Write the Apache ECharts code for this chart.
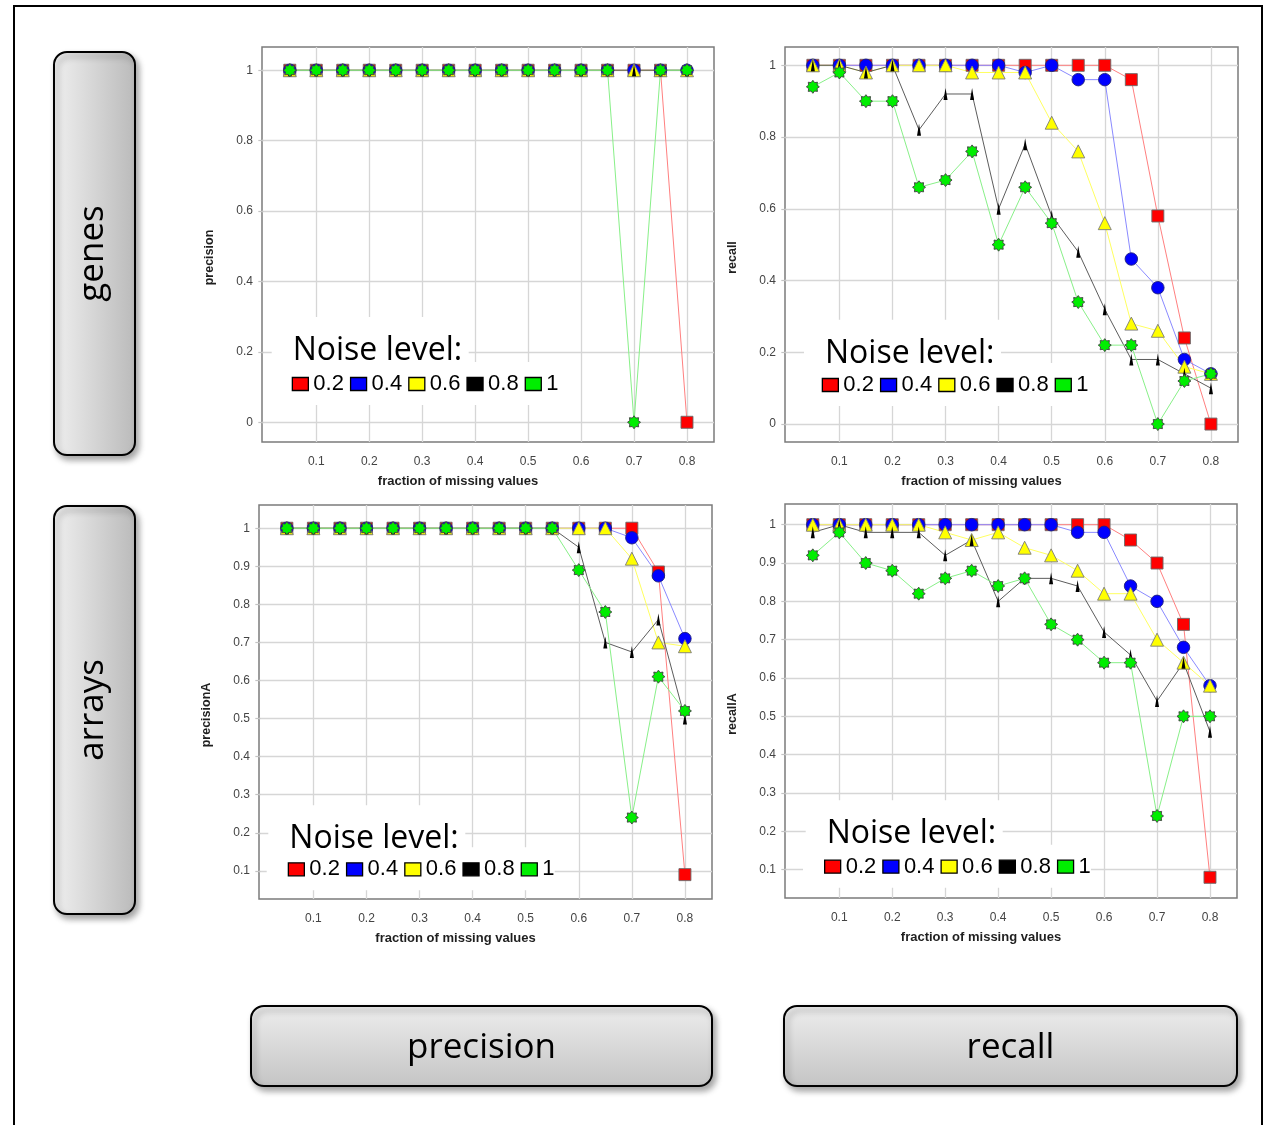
<!DOCTYPE html>
<html>
<head>
<meta charset="utf-8">
<script src="https://cdn.jsdelivr.net/npm/echarts@6/dist/echarts.min.js"></script>
<style>
  html, body { margin: 0; padding: 0; background: #fff; }
  #chart { width: 1276px; height: 1125px; }
</style>
</head>
<body>
<div id="chart"></div>
<script>
// x positions: fraction of missing values
const fractions = [0.05, 0.1, 0.15, 0.2, 0.25, 0.3, 0.35, 0.4, 0.45, 0.5, 0.55, 0.6, 0.65, 0.7, 0.75, 0.8];
// one series per noise level
const noiseLevels = ['0.2', '0.4', '0.6', '0.8', '1'];
// tick labels
const xTicks = [0.1, 0.2, 0.3, 0.4, 0.5, 0.6, 0.7, 0.8];
const yTicksGenes = [0, 0.2, 0.4, 0.6, 0.8, 1];
const yTicksArrays = [0.1, 0.2, 0.3, 0.4, 0.5, 0.6, 0.7, 0.8, 0.9, 1];

// genes: precision (rows follow noiseLevels)
const genesPrecision = [
  [1, 1, 1, 1, 1, 1, 1, 1, 1, 1, 1, 1, 1, 1, 1, 0],
  [1, 1, 1, 1, 1, 1, 1, 1, 1, 1, 1, 1, 1, 1, 1, 1],
  [1, 1, 1, 1, 1, 1, 1, 1, 1, 1, 1, 1, 1, 1, 1, 1],
  [1, 1, 1, 1, 1, 1, 1, 1, 1, 1, 1, 1, 1, 1, 1, 1],
  [1, 1, 1, 1, 1, 1, 1, 1, 1, 1, 1, 1, 1, 0, 1, 1]
];
// genes: recall
const genesRecall = [
  [1, 1, 1, 1, 1, 1, 1, 1, 1, 1, 1, 1, 0.96, 0.58, 0.24, 0],
  [1, 1, 1, 1, 1, 1, 1, 1, 0.98, 1, 0.96, 0.96, 0.46, 0.38, 0.18, 0.14],
  [1, 1, 0.98, 1, 1, 1, 0.98, 0.98, 0.98, 0.84, 0.76, 0.56, 0.28, 0.26, 0.16, 0.14],
  [1, 1, 0.98, 1, 0.82, 0.92, 0.92, 0.6, 0.78, 0.58, 0.48, 0.32, 0.18, 0.18, 0.14, 0.1],
  [0.94, 0.98, 0.9, 0.9, 0.66, 0.68, 0.76, 0.5, 0.66, 0.56, 0.34, 0.22, 0.22, 0, 0.12, 0.14]
];
// arrays: precision
const arraysPrecision = [
  [1, 1, 1, 1, 1, 1, 1, 1, 1, 1, 1, 1, 1, 1, 0.885, 0.09],
  [1, 1, 1, 1, 1, 1, 1, 1, 1, 1, 1, 1, 1, 0.975, 0.875, 0.71],
  [1, 1, 1, 1, 1, 1, 1, 1, 1, 1, 1, 1, 1, 0.92, 0.7, 0.69],
  [1, 1, 1, 1, 1, 1, 1, 1, 1, 1, 1, 0.95, 0.7, 0.675, 0.76, 0.5],
  [1, 1, 1, 1, 1, 1, 1, 1, 1, 1, 1, 0.89, 0.78, 0.24, 0.61, 0.52]
];
// arrays: recall
const arraysRecall = [
  [1, 1, 1, 1, 1, 1, 1, 1, 1, 1, 1, 1, 0.96, 0.9, 0.74, 0.08],
  [1, 1, 1, 1, 1, 1, 1, 1, 1, 1, 0.98, 0.98, 0.84, 0.8, 0.68, 0.58],
  [1, 1, 1, 1, 1, 0.98, 0.96, 0.98, 0.94, 0.92, 0.88, 0.82, 0.82, 0.7, 0.64, 0.58],
  [0.98, 1, 0.98, 0.98, 0.98, 0.92, 0.96, 0.8, 0.86, 0.86, 0.84, 0.72, 0.66, 0.54, 0.64, 0.46],
  [0.92, 0.98, 0.9, 0.88, 0.82, 0.86, 0.88, 0.84, 0.86, 0.74, 0.7, 0.64, 0.64, 0.24, 0.5, 0.5]
];

// ---- styling ----
const markerFill = ['#ff0000', '#0000ff', '#ffff00', '#000000', '#00ee00'];
const lineColor = ['#ff8080', '#8a8aff', '#ffff60', '#5c5c5c', '#88f088'];
const markerBorder = ['#6a6a6a', '#20207a', '#7a7a7a', '#000000', '#3f3f3f'];

function starburst(points, outer, inner) {
  let d = '';
  for (let k = 0; k < points * 2; k++) {
    const a = Math.PI * k / points - Math.PI / 2;
    const r = k % 2 ? inner : outer;
    d += (k ? 'L' : 'M') + (10 + r * Math.cos(a)).toFixed(2) + ',' + (10 + r * Math.sin(a)).toFixed(2);
  }
  return 'path://' + d + 'Z';
}
const markerShape = ['rect', 'circle', 'triangle', 'path://M2,0 L4,12 L0,12 Z', starburst(8, 10, 7)];
const markerSize = [12, 12.5, 13, [4, 12], 13];

const panels = [
  { rows: genesPrecision, yName: 'precision', yMin: -0.056, yMax: 1.066, yTicks: yTicksGenes,
    box: [262, 47, 452, 395], title: [292.7, 360], legend: [291.7, 384] },
  { rows: genesRecall, yName: 'recall', yMin: -0.05, yMax: 1.051, yTicks: yTicksGenes,
    box: [785, 47, 453, 395], title: [825, 362.7], legend: [821.7, 385] },
  { rows: arraysPrecision, yName: 'precisionA', yMin: 0.026, yMax: 1.061, yTicks: yTicksArrays,
    box: [259, 505, 453, 394], title: [289.3, 848.3], legend: [287.7, 869.3] },
  { rows: arraysRecall, yName: 'recallA', yMin: 0.026, yMax: 1.054, yTicks: yTicksArrays,
    box: [785, 504, 452, 394], title: [826.7, 843.3], legend: [824, 866.7] }
];

const tickFont = { fontFamily: '"Liberation Sans", Arial, sans-serif', fontSize: 12, color: '#444' };
const nameFont = { fontFamily: '"Liberation Sans", Arial, sans-serif', fontWeight: 'bold', color: '#1f1f1f' };

const grid = [], xAxis = [], yAxis = [], series = [], legend = [], graphic = [];

panels.forEach((p, gi) => {
  const [left, top, width, height] = p.box;
  grid.push({ left, top, width, height, show: true, backgroundColor: '#fff',
    borderColor: '#7b7b7b', borderWidth: 1.5 });

  xAxis.push({
    gridIndex: gi, type: 'value', min: -0.0025, max: 0.851,
    name: 'fraction of missing values', nameLocation: 'middle', nameGap: 33,
    nameTextStyle: Object.assign({ fontSize: 13, padding: [0, 60, 0, 0] }, nameFont),
    axisLine: { show: false },
    axisTick: { show: false, customValues: xTicks },
    axisLabel: Object.assign({ customValues: xTicks, margin: 14 }, tickFont),
    splitLine: { show: true, lineStyle: { color: '#d6d6d6', width: 1.3 } }
  });

  yAxis.push({
    gridIndex: gi, type: 'value', min: p.yMin, max: p.yMax,
    name: p.yName, nameLocation: 'middle', nameGap: 46,
    nameTextStyle: Object.assign({ fontSize: 12.5, padding: [0, 26, 0, 0] }, nameFont),
    axisLine: { show: false },
    axisTick: { show: true, customValues: p.yTicks, length: 5, lineStyle: { color: '#c4c4c4', width: 1.2 } },
    axisLabel: Object.assign({ customValues: p.yTicks, margin: 9 }, tickFont),
    splitLine: { show: true, lineStyle: { color: '#d6d6d6', width: 1.3 } }
  });

  p.rows.forEach((vals, si) => {
    series.push({
      type: 'line', name: noiseLevels[si], xAxisIndex: gi, yAxisIndex: gi,
      data: fractions.map((f, k) => [f, vals[k]]),
      symbol: markerShape[si], symbolSize: markerSize[si],
      itemStyle: { color: markerFill[si], borderColor: markerBorder[si], borderWidth: si === 3 ? 0 : 0.9 },
      lineStyle: { color: lineColor[si], width: 1 },
      emphasis: { disabled: true },
      z: 2
    });
  });

  // white panel behind the legend block
  const [tx, tb] = p.title;
  const [lx, lcy] = p.legend;
  graphic.push({ type: 'rect', z: 1, shape: { x: tx - 21, y: tb - 43, width: 197, height: 45 },
    style: { fill: '#fff' } });
  graphic.push({ type: 'rect', z: 1, shape: { x: lx - 21, y: lcy - 22, width: 288, height: 43 },
    style: { fill: '#fff' } });
  graphic.push({ type: 'text', z: 5, x: tx, y: tb - 9,
    style: { text: 'Noise level:', font: '32px "Open Sans", "Noto Sans", sans-serif', fill: '#000',
      align: 'left', textAlign: 'left', verticalAlign: 'middle', textVerticalAlign: 'middle' } });

  legend.push({
    left: lx, top: lcy - 11, padding: 0, orient: 'horizontal',
    itemWidth: 16, itemHeight: 13, itemGap: 6, icon: 'rect',
    textStyle: { fontFamily: '"Liberation Sans", Arial, sans-serif', fontSize: 22, color: '#000' },
    data: noiseLevels.map((n, i) => ({ name: n,
      itemStyle: { color: markerFill[i], borderColor: '#000', borderWidth: 1.3 } }))
  });
});

// outer frame
graphic.push({ type: 'rect', z: 0, shape: { x: 14, y: 6, width: 1248, height: 1140 },
  style: { fill: 'none', stroke: '#000', lineWidth: 2 } });

// row / column caption boxes
function captionBox(x, y, w, h, text, vertical) {
  const fill = vertical
    ? new echarts.graphic.LinearGradient(0, 0, 1, 0, [{ offset: 0, color: '#f0f0f0' }, { offset: 1, color: '#bababa' }])
    : new echarts.graphic.LinearGradient(0, 0, 0, 1, [{ offset: 0, color: '#ededed' }, { offset: 1, color: '#c4c4c4' }]);
  graphic.push({ type: 'rect', z: 1, shape: { x, y, width: w, height: h, r: 13 },
    style: { fill, stroke: '#000', lineWidth: 2, shadowBlur: 6, shadowOffsetX: 3, shadowOffsetY: 4,
      shadowColor: 'rgba(0,0,0,0.35)' } });
  graphic.push({ type: 'text', z: 5, x: x + w / 2 + (vertical ? -1 : 0), y: y + h / 2 + (vertical ? 0 : 2),
    rotation: vertical ? Math.PI / 2 : 0,
    style: { text, font: '35px "Open Sans", "Noto Sans", sans-serif', fill: '#000',
      align: 'center', textAlign: 'center', verticalAlign: 'middle', textVerticalAlign: 'middle' } });
}
captionBox(54, 52, 81, 403, 'genes', true);
captionBox(54, 506, 81, 408, 'arrays', true);
captionBox(251, 1006, 461, 80, 'precision', false);
captionBox(784, 1006, 453, 80, 'recall', false);

const chart = echarts.init(document.getElementById('chart'), null, { renderer: 'canvas', width: 1276, height: 1125 });
chart.setOption({
  animation: false,
  backgroundColor: '#fff',
  grid, xAxis, yAxis, series, legend, graphic
});
</script>
</body>
</html>
